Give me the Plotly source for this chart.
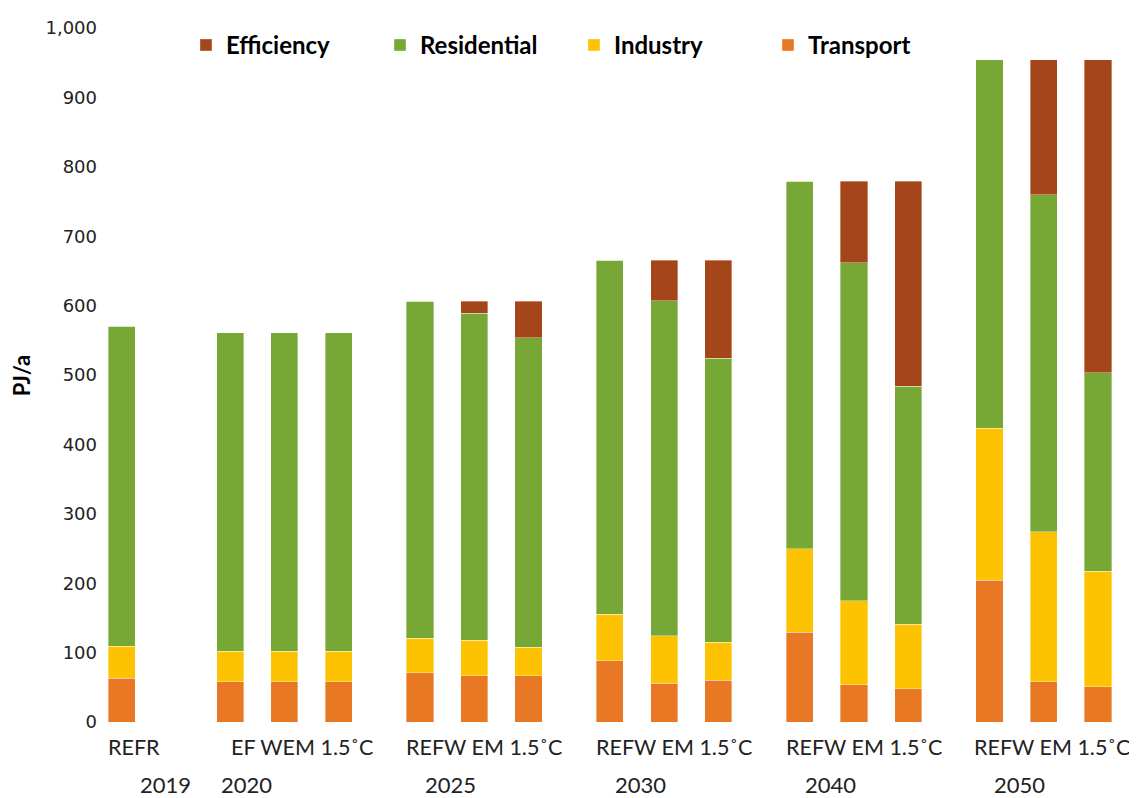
import plotly.graph_objects as go

# chart data (PJ/a)
years = ["2019", "2020", "2025", "2030", "2040", "2050"]
scenarios = [["REF"], ["REF", "WEM", "1.5˚C"], ["REF", "WEM", "1.5˚C"],
             ["REF", "WEM", "1.5˚C"], ["REF", "WEM", "1.5˚C"], ["REF", "WEM", "1.5˚C"]]
# axis text as it appears under the bars
group_labels = ["REFR", "EF WEM 1.5˚C", "REFW EM 1.5˚C", "REFW EM 1.5˚C",
                "REFW EM 1.5˚C", "REFW EM 1.5˚C"]

transport = [63, 58, 58, 58, 71, 67, 67, 88, 56, 60, 129, 54, 48, 204, 58, 51]
industry = [46, 44, 44, 44, 50, 51, 41, 67, 68, 55, 121, 121, 93, 219, 216, 166]
residential = [461, 459, 459, 459, 485, 471, 446, 510, 483, 409, 529, 487, 343, 531, 486, 286]
efficiency = [0, 0, 0, 0, 0, 17, 52, 0, 58, 141, 0, 117, 295, 0, 194, 451]

series = [
    ("Transport", transport, "#E97824"),
    ("Industry", industry, "#FDC202"),
    ("Residential", residential, "#77A836"),
    ("Efficiency", efficiency, "#A5461A"),
]

# layout of the category slots
group_start = [0, 2, 5.5, 9, 12.5, 16]
label_shift = [-0.27, 0, -0.27, -0.27, -0.27, -0.3]
year_shift = [0.81, 0.31, 0.57, 0.57, 0.57, 0.56]

xpos = []
for g, scen in enumerate(scenarios):
    for i in range(len(scen)):
        xpos.append(group_start[g] + i)

fig = go.Figure()
for name, vals, color in series:
    fig.add_trace(go.Bar(
        name=name, x=xpos, y=vals, width=0.5,
        marker=dict(color=color, line=dict(width=0.6, color="rgba(255,255,255,0.6)")),
    ))

font_lbl = "Lato"

annotations = []
for g in range(len(years)):
    annotations.append(dict(
        x=group_start[g] + label_shift[g], y=-0.016, xref="x", yref="paper",
        text=group_labels[g], showarrow=False, xanchor="left", yanchor="top",
        font=dict(family=font_lbl, size=21.5, color="#222222"), borderpad=0,
    ))
    annotations.append(dict(
        x=group_start[g] + year_shift[g], y=-0.069, xref="x", yref="paper",
        text=years[g], showarrow=False, xanchor="center", yanchor="top",
        font=dict(family=font_lbl, size=22, color="#222222"), borderpad=0,
    ))
annotations.append(dict(
    x=-0.076, y=0.5, xref="paper", yref="paper", text="<b>PJ/a</b>",
    textangle=-90, showarrow=False, xanchor="center", yanchor="middle",
    font=dict(family="Lato", size=22, color="#000000"),
))

fig.update_layout(
    width=1137, height=798,
    margin=dict(l=92, r=9, t=14, b=84),
    paper_bgcolor="white", plot_bgcolor="white",
    barmode="stack",
    showlegend=True,
    legend=dict(
        orientation="h", traceorder="reversed",
        x=0.083, y=0.975, xanchor="left", yanchor="middle",
        font=dict(family="Lato", size=24, color="#000000", weight="bold"),
        entrywidth=149, itemwidth=30,
        bgcolor="rgba(0,0,0,0)",
    ),
    xaxis=dict(range=[-0.4, 18.7], showticklabels=False, showgrid=False,
               zeroline=False, showline=False, ticks=""),
    yaxis=dict(range=[0, 1000], dtick=100, tickformat=",d", showgrid=False,
               zeroline=False, showline=False, ticks="", ticklabelstandoff=2,
               tickfont=dict(family="DejaVu Sans", size=18, color="#222222")),
    annotations=annotations,
)

fig.write_html("out.html")
